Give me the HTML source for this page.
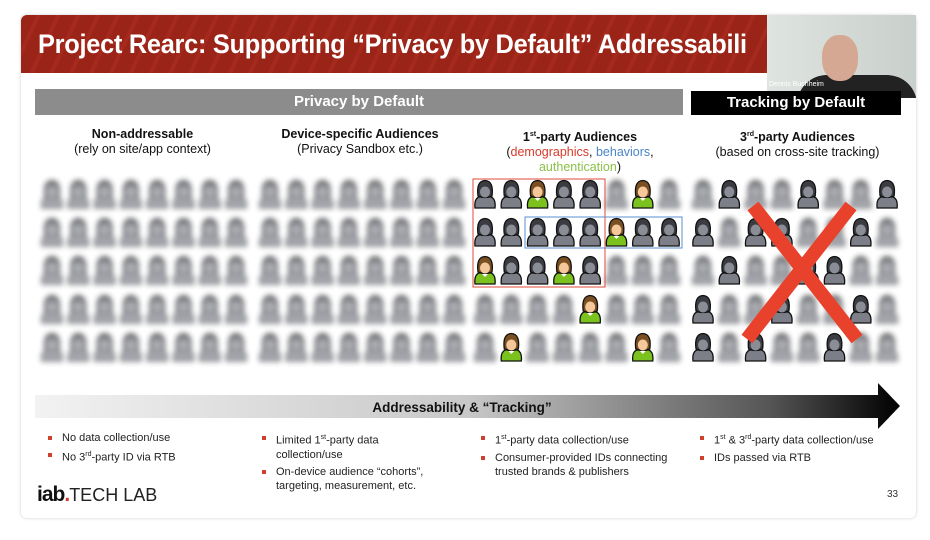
<!DOCTYPE html>
<html><head><meta charset="utf-8"><style>
body{margin:0;width:930px;height:540px;background:#fff;overflow:hidden;font-family:"Liberation Sans",sans-serif;position:relative}
.slide{position:absolute;left:21px;top:15px;width:895px;height:503px;background:#fff;border-radius:6px;box-shadow:0 0 3px #ccc}
.title{position:absolute;left:21px;top:15px;width:895px;height:58px;border-radius:6px 6px 0 0;background:repeating-linear-gradient(115deg,#9b2418 0 14px,#a52a1d 14px 18px);overflow:hidden}
.title span{position:absolute;left:17px;top:0;color:#fff;font-size:27px;font-weight:bold;line-height:58px;white-space:nowrap;transform:scaleX(0.94);transform-origin:0 0;letter-spacing:-0.3px}
.cam{position:absolute;left:767px;top:15px;width:149px;height:83px;background:linear-gradient(90deg,#dfe4e0,#c9cfcb);overflow:hidden}
.bar{position:absolute;top:89px;height:26px;color:#fff;font-weight:bold;font-size:15px;text-align:center;line-height:26px}
.hd{position:absolute;top:127px;text-align:center;font-size:12.5px;line-height:15px;color:#111}
.b{position:absolute;top:431px;font-size:11px;line-height:14px;color:#222}
.b div{position:relative;padding-left:18px;margin-bottom:3px}
.b div:before{content:"";position:absolute;left:4px;top:5px;width:4px;height:4px;background:#d0402f}
sup{font-size:7px}
</style></head><body>
<div class="slide"></div>
<div class="title"><span>Project Rearc: Supporting “Privacy by Default” Addressabili</span></div>
<div class="cam">
<div style="position:absolute;left:30px;top:60px;width:120px;height:30px;background:#222;border-radius:40px 40px 0 0"></div>
<div style="position:absolute;left:55px;top:20px;width:36px;height:46px;background:#d4a893;border-radius:45%"></div>
<div style="position:absolute;left:2px;top:66px;font-size:7px;color:#fff">Dennis Buchheim</div>
</div>
<div class="bar" style="left:35px;width:648px;background:#8c8c8c">Privacy by Default</div>
<div class="bar" style="left:691px;width:210px;background:#000;top:91px;height:24px;line-height:24px">Tracking by Default</div>
<div class="hd" style="left:40px;width:205px"><b>Non-addressable</b><br>(rely on site/app context)</div>
<div class="hd" style="left:250px;width:220px"><b>Device-specific Audiences</b><br>(Privacy Sandbox etc.)</div>
<div class="hd" style="left:470px;width:220px"><b>1<sup>st</sup>-party Audiences</b><br>(<span style="color:#d83a2a">demographics</span>, <span style="color:#4a86c8">behaviors</span>,<br><span style="color:#8cc04a">authentication</span>)</div>
<div class="hd" style="left:690px;width:215px"><b>3<sup>rd</sup>-party Audiences</b><br>(based on cross-site tracking)</div>
<svg id="g" style="position:absolute;left:0;top:0" width="930" height="540">
<defs>
<filter id="bl" x="-50%" y="-50%" width="200%" height="200%"><feGaussianBlur stdDeviation="2.6"/></filter>
<linearGradient id="ag" x1="0" x2="1"><stop offset="0" stop-color="#f2f2f2"/><stop offset="0.5" stop-color="#c8c8c8"/><stop offset="0.85" stop-color="#555"/><stop offset="1" stop-color="#000"/></linearGradient>
<symbol id="gr" viewBox="0 0 24 30"><path d="M2 29 Q1 20 6 18 L18 18 Q23 20 22 29Z" fill="#7c7f88" stroke="#111" stroke-width="1.3"/><path d="M5 17 Q3 2 12 1.5 Q21 2 19 17 Q12 20 5 17Z" fill="#3a3c42" stroke="#111" stroke-width="1.3"/><ellipse cx="12" cy="13" rx="5" ry="5.5" fill="#8a8d96"/></symbol>
<symbol id="gn" viewBox="0 0 24 30"><path d="M2 29 Q1 20 6 18 L18 18 Q23 20 22 29Z" fill="#7cc21e" stroke="#111" stroke-width="1.3"/><path d="M5 17 Q3 2 12 1.5 Q21 2 19 17 Q12 20 5 17Z" fill="#7a4f22" stroke="#111" stroke-width="1.3"/><ellipse cx="12" cy="13" rx="5" ry="5.5" fill="#f4c89a"/><path d="M9 19 L12 22 L15 19" fill="#fff"/></symbol>
</defs>
<g id="icons"></g>
<rect x="473" y="179" width="132" height="108" fill="none" stroke="#e04a3a" stroke-width="1"/>
<rect x="525" y="217" width="157" height="31" fill="none" stroke="#5b8fd0" stroke-width="1"/>
<path d="M747 339 L851 206 M753 206 L857 339" stroke="#e8422c" stroke-width="14" fill="none"/>
<path d="M35 395 L878 395 L878 383 L900 406 L878 429 L878 418 L35 418Z" fill="url(#ag)"/>
<text x="462" y="412" text-anchor="middle" font-family="Liberation Sans" font-weight="bold" font-size="13.5" fill="#111">Addressability &amp; “Tracking”</text>
</svg>
<div class="b" style="left:44px"><div>No data collection/use</div><div>No 3<sup>rd</sup>-party ID via RTB</div></div>
<div class="b" style="left:258px;width:180px"><div>Limited 1<sup>st</sup>-party data collection/use</div><div>On-device audience “cohorts”, targeting, measurement, etc.</div></div>
<div class="b" style="left:477px;width:200px"><div>1<sup>st</sup>-party data collection/use</div><div>Consumer-provided IDs connecting trusted brands &amp; publishers</div></div>
<div class="b" style="left:696px"><div>1<sup>st</sup> &amp; 3<sup>rd</sup>-party data collection/use</div><div>IDs passed via RTB</div></div>
<div style="position:absolute;left:37px;top:483px;font-size:21px;font-weight:bold;color:#111;letter-spacing:-1px">iab<span style="color:#d83a2a">.</span><span style="font-weight:normal;font-size:18px;letter-spacing:0;color:#222">TECH LAB</span></div>
<div style="position:absolute;left:887px;top:489px;font-size:10px;color:#333">33</div>
<script>
var g=document.getElementById('icons'),ns='http://www.w3.org/2000/svg';
var rows=[195,233,271,310,348];
var groups=[52,270,485,703];
var clear={2:{'0,0':'gr','0,1':'gr','0,2':'gn','0,3':'gr','0,4':'gr','0,6':'gn','1,0':'gr','1,1':'gr','1,2':'gr','1,3':'gr','1,4':'gr','1,5':'gn','1,6':'gr','1,7':'gr','2,0':'gn','2,1':'gr','2,2':'gr','2,3':'gn','2,4':'gr','3,4':'gn','4,1':'gn','4,6':'gn'},
3:{'0,1':'gr','0,4':'gr','0,7':'gr','1,0':'gr','1,2':'gr','1,3':'gr','1,6':'gr','2,1':'gr','2,4':'gr','2,5':'gr','3,0':'gr','3,3':'gr','3,6':'gr','4,0':'gr','4,2':'gr','4,5':'gr'}};
for(var gi=0;gi<4;gi++)for(var r=0;r<5;r++)for(var c=0;c<8;c++){
var cx=groups[gi]+c*26.3,cy=rows[r];var k=(clear[gi]||{})[r+','+c];
var u=document.createElementNS(ns,'use');u.setAttribute('href','#'+(k||'gr'));
u.setAttribute('x',cx-12);u.setAttribute('y',cy-16);u.setAttribute('width',24);u.setAttribute('height',30);
if(!k){u.setAttribute('filter','url(#bl)');u.setAttribute('opacity','0.7');}
g.appendChild(u);}
</script>
</body></html>
